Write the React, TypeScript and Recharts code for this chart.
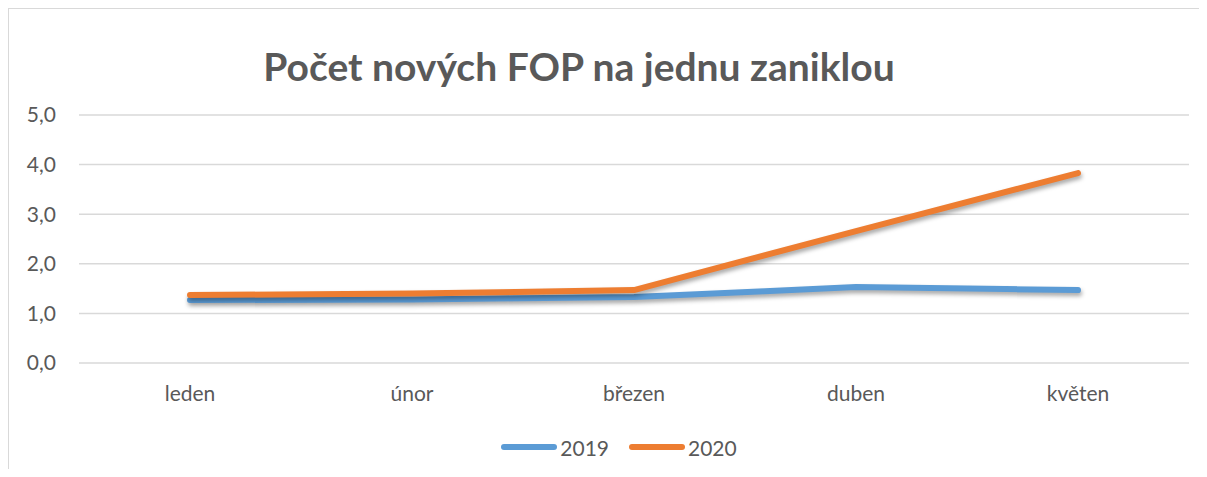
import { CartesianGrid, Legend, Line, LineChart, XAxis, YAxis } from "recharts";

const months = ["leden", "únor", "březen", "duben", "květen"];
const values2019 = [1.27, 1.28, 1.33, 1.53, 1.47];
const values2020 = [1.37, 1.4, 1.47, 2.66, 3.83];
const yTicks = [0, 1, 2, 3, 4, 5];

const data = months.map((month, i) => ({
  month,
  y2019: values2019[i],
  y2020: values2020[i],
}));

const textColor = "#595959";
const font = "Lato, 'Open Sans', sans-serif";

const series = [
  { key: "y2019", name: "2019", color: "#5B9BD5" },
  { key: "y2020", name: "2020", color: "#ED7D31" },
];

function LegendContent() {
  return (
    <div style={{ display: "flex", justifyContent: "center", gap: 20, paddingLeft: 40 }}>
      {series.map((s) => (
        <div key={s.key} style={{ display: "flex", alignItems: "center", height: 24 }}>
          <span
            style={{
              display: "inline-block",
              width: 56,
              height: 6,
              borderRadius: 3,
              background: s.color,
              marginRight: 3,
            }}
          />
          <span style={{ fontSize: 21, color: textColor, fontFamily: font }}>{s.name}</span>
        </div>
      ))}
    </div>
  );
}

export default function App() {
  return (
    <div
      style={{
        position: "relative",
        width: 1230,
        height: 461,
        boxSizing: "border-box",
        borderTop: "1px solid #d9d9d9",
        borderLeft: "1px solid #d9d9d9",
        background: "#fff",
      }}
    >
      <style>{`
        html, body { overflow: hidden; }
        .recharts-line-curve { filter: drop-shadow(1px 3px 2px rgba(0,0,0,0.35)); }
      `}</style>
      <div
        style={{
          position: "absolute",
          left: 0,
          width: 1140,
          top: 33,
          textAlign: "center",
          fontFamily: font,
          fontWeight: 700,
          fontSize: 39,
          color: textColor,
          lineHeight: "48px",
        }}
      >
        Počet nových FOP na jednu zaniklou
      </div>
      <LineChart width={1198} height={460} data={data} margin={{ top: 106, right: 18, left: 0, bottom: 42 }}>
        <CartesianGrid stroke="#d9d9d9" strokeWidth={1.5} vertical={false} />
        <XAxis
          dataKey="month"
          height={40}
          padding={{ left: 111, right: 111 }}
          axisLine={false}
          tickLine={false}
          tickSize={0}
          tickMargin={23}
          tick={{ fill: textColor, fontSize: 21, fontFamily: font }}
        />
        <YAxis
          width={70}
          domain={[0, 5]}
          ticks={yTicks}
          axisLine={false}
          tickLine={false}
          tickSize={0}
          tickMargin={23}
          tickFormatter={(v: number) => v.toFixed(1).replace(".", ",")}
          tick={{ fill: textColor, fontSize: 21, fontFamily: font }}
        />
        <Legend verticalAlign="bottom" wrapperStyle={{ bottom: 10 }} content={<LegendContent />} />
        {series.map((s) => (
          <Line
            key={s.key}
            dataKey={s.key}
            name={s.name}
            stroke={s.color}
            strokeWidth={6}
            strokeLinecap="round"
            strokeLinejoin="round"
            dot={false}
            activeDot={false}
            isAnimationActive={false}
          />
        ))}
      </LineChart>
    </div>
  );
}
